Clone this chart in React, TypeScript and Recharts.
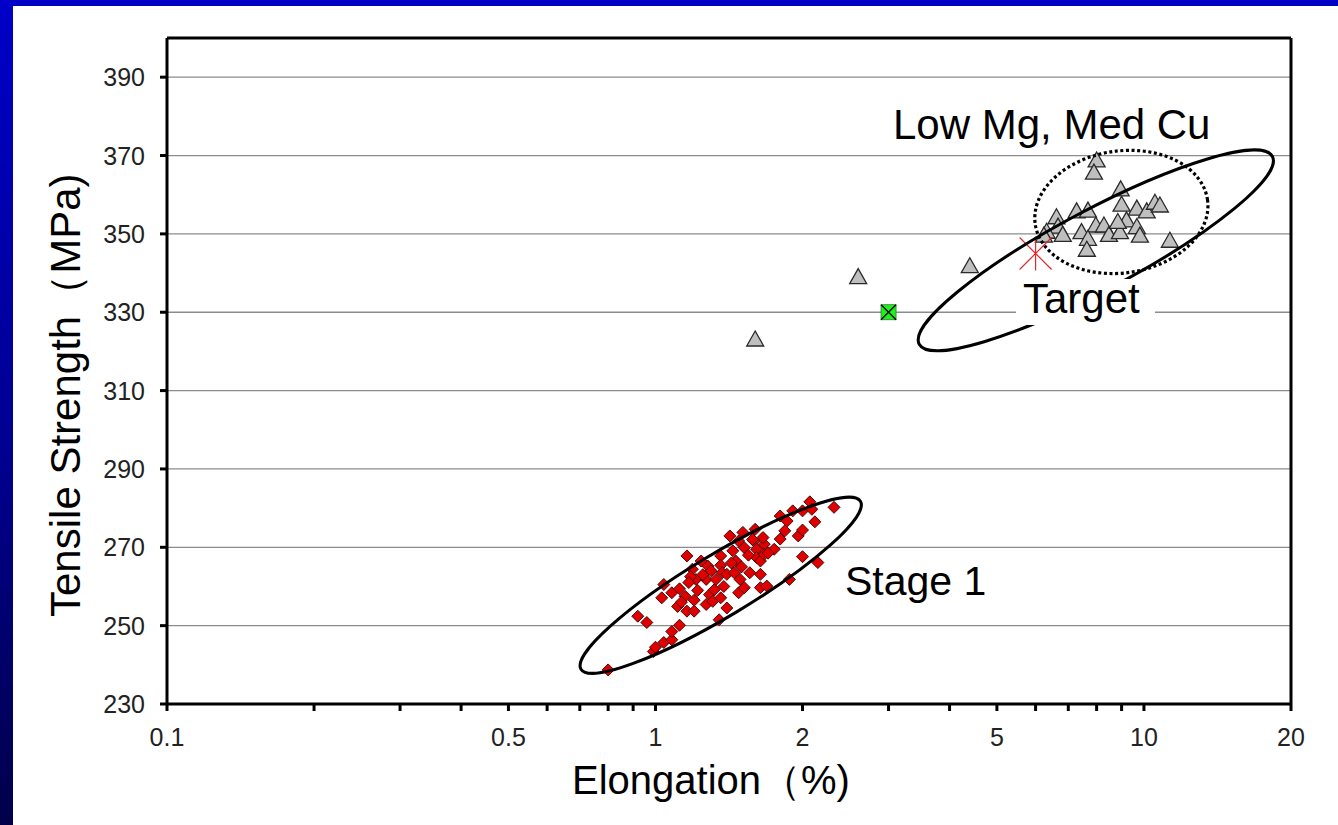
import React from "react"
import { CartesianGrid, ReferenceLine, Scatter, ScatterChart, XAxis, YAxis } from "recharts"

const FONT = "'Liberation Sans', Arial, sans-serif"

// x axis (log) tick positions, only some carry a label
const X_TICKS = [0.1, 0.2, 0.3, 0.4, 0.5, 0.6, 0.7, 0.8, 0.9, 1, 2, 3, 4, 5, 6, 7, 8, 9, 10, 20]
const X_LABELS = [0.1, 0.5, 1, 2, 5, 10, 20]
const Y_TICKS = [230, 250, 270, 290, 310, 330, 350, 370, 390]

// [elongation %, tensile strength MPa]
const STAGE1: [number, number][] = [
  [0.8, 238.7], [0.92, 252.4], [0.96, 250.8], [0.99, 243.4], [1.0, 244.5], [1.04, 245.7],
  [1.08, 246.4], [1.08, 248.5], [1.12, 250.1], [1.04, 260.5], [1.03, 257.1], [1.08, 258.4],
  [1.11, 254.9], [1.12, 259.4], [1.15, 257.5], [1.16, 253.7], [1.2, 253.7], [1.16, 267.8],
  [1.19, 264.4], [1.21, 261.8], [1.24, 266.5], [1.28, 265.2], [1.27, 261.8], [1.29, 257.9],
  [1.27, 255.4], [1.32, 259.2], [1.33, 261.8], [1.31, 256.2], [1.36, 257.1], [1.36, 267.8],
  [1.36, 265.4], [1.37, 263.5], [1.35, 251.5], [1.4, 254.5], [1.4, 263.1], [1.42, 272.9],
  [1.44, 269.1], [1.46, 266.5], [1.49, 261.8], [1.48, 258.4], [1.52, 259.7], [1.48, 271.6],
  [1.51, 273.8], [1.52, 269.9], [1.56, 263.5], [1.59, 271.6], [1.6, 274.6], [1.61, 269.5],
  [1.61, 267.4], [1.64, 266.5], [1.64, 263.1], [1.64, 259.7], [1.67, 270.8], [1.67, 268.2],
  [1.69, 260.1], [1.75, 269.5], [1.8, 278.0], [1.8, 272.1], [1.84, 274.2], [1.86, 276.7],
  [1.88, 261.8], [1.91, 279.3], [1.96, 272.9], [2.0, 274.4], [2.0, 267.6], [2.0, 279.3],
  [2.07, 281.6], [2.09, 279.7], [2.12, 276.5], [2.15, 266.1], [2.32, 280.2],
  [1.18, 262.5], [1.25, 263.0], [1.22, 259.0], [1.43, 266.0], [1.55, 268.0], [1.58, 272.0],
  [1.13, 256.0], [1.17, 261.0], [1.66, 272.5], [1.7, 268.5], [1.2, 256.5], [1.38, 260.0],
  [1.5, 265.0], [1.45, 263.5], [1.3, 264.0],
]

const LOW_MG_MED_CU: [number, number][] = [
  [1.6, 323.3], [2.6, 339.2], [4.4, 342.0], [8.0, 369.0], [7.9, 365.9], [8.96, 361.6],
  [9.0, 357.7], [7.28, 356.0], [7.68, 356.2], [9.67, 356.7], [10.13, 356.0], [10.53, 358.2],
  [10.78, 357.5], [6.62, 354.5], [6.67, 352.1], [6.32, 350.8], [6.24, 349.8], [6.82, 350.0],
  [7.45, 350.7], [7.97, 352.4], [8.28, 352.4], [8.48, 350.0], [8.93, 350.7], [9.21, 353.7],
  [8.84, 353.3], [9.67, 352.0], [9.81, 349.8], [7.68, 349.0], [7.64, 346.2], [11.3, 348.5],
]

const GREEN_POINT: [number, number][] = [[3.0, 330]]
const TARGET_POINT: [number, number][] = [[6.0, 345]]

const toRows = (pts: [number, number][]) => pts.map(([x, y]) => ({ x, y }))

// plot rectangle (chart margins + axis sizes below)
const W = 1338
const H = 825
const PLOT = { left: 167, top: 38, right: 1291, bottom: 704 }
const X_DOMAIN = [0.1, 20]
const Y_DOMAIN = [230, 400]

const px = (v: number) =>
  PLOT.left +
  ((Math.log10(v) - Math.log10(X_DOMAIN[0])) / (Math.log10(X_DOMAIN[1]) - Math.log10(X_DOMAIN[0]))) *
    (PLOT.right - PLOT.left)
const py = (v: number) =>
  PLOT.bottom - ((v - Y_DOMAIN[0]) / (Y_DOMAIN[1] - Y_DOMAIN[0])) * (PLOT.bottom - PLOT.top)

// hand drawn ellipses: centre in data units, radii in px
const ELLIPSES = [
  { cx: 1.36, cy: 260.3, rx: 163, ry: 31, angle: -31, dotted: false },
  { cx: 7.97, cy: 345.8, rx: 200, ry: 40, angle: -28, dotted: false },
  { cx: 8.99, cy: 355.6, rx: 87, ry: 61, angle: -8, dotted: true },
]

const XTick = (props: any) => {
  const { x, y, payload } = props
  if (!X_LABELS.includes(payload.value)) return <g />
  return (
    <text x={x} y={y} dy="0.71em" textAnchor="middle" fontSize={25} fill="#222" fontFamily={FONT}>
      {String(payload.value)}
    </text>
  )
}

const YTick = (props: any) => {
  const { x, y, payload } = props
  return (
    <text x={x} y={y} dy="0.36em" textAnchor="end" fontSize={25} fill="#222" fontFamily={FONT}>
      {String(payload.value)}
    </text>
  )
}

const Diamond = (props: any) => {
  const { cx, cy } = props
  const r = 6
  return (
    <path
      d={`M${cx},${cy - r}L${cx + r},${cy}L${cx},${cy + r}L${cx - r},${cy}Z`}
      fill="#e00000"
      stroke="#3a0000"
      strokeWidth={0.9}
    />
  )
}

const Triangle = (props: any) => {
  const { cx, cy } = props
  return (
    <path
      d={`M${cx},${cy - 7.5}L${cx + 8.5},${cy + 7.5}L${cx - 8.5},${cy + 7.5}Z`}
      fill="#bfbfbf"
      stroke="#2a2a2a"
      strokeWidth={1.3}
    />
  )
}

const GreenBox = (props: any) => {
  const { cx, cy } = props
  const r = 7.5
  return (
    <g>
      <rect x={cx - r} y={cy - r} width={2 * r} height={2 * r} fill="#1ef01e" stroke="#2a7a2a" strokeWidth={0.8} />
      <path d={`M${cx - r},${cy - r}L${cx + r},${cy + r}M${cx + r},${cy - r}L${cx - r},${cy + r}`} stroke="#000" strokeWidth={1.3} />
    </g>
  )
}

const Star = (props: any) => {
  const { cx, cy } = props
  const r = 16
  return (
    <path
      d={`M${cx - r},${cy - r}L${cx + r},${cy + r}M${cx + r},${cy - r}L${cx - r},${cy + r}M${cx},${cy - r - 1}L${cx},${cy + r + 1}`}
      stroke="#e02828"
      strokeWidth={1.2}
      fill="none"
    />
  )
}

export default function App() {
  return (
    <div
      style={{
        position: "absolute",
        left: 0,
        top: 0,
        width: W,
        height: H,
        background: "#fff",
        overflow: "hidden",
        fontFamily: FONT,
      }}
    >
      <div style={{ position: "absolute", left: 0, top: 0, width: W, height: 6, background: "#0000c4" }} />
      <div
        style={{
          position: "absolute",
          left: 0,
          top: 0,
          width: 13,
          height: H,
          background: "linear-gradient(to bottom, #0000c8, #000090 55%, #00004a)",
        }}
      />
      <div style={{ position: "absolute", left: 0, top: 0 }}>
        <ScatterChart width={W} height={H} margin={{ top: 38, right: 47, bottom: 81, left: 0 }}>
          <CartesianGrid vertical={false} stroke="#8c8c8c" strokeWidth={1.3} />
          <XAxis
            type="number"
            dataKey="x"
            scale="log"
            domain={X_DOMAIN}
            ticks={X_TICKS}
            interval={0}
            allowDataOverflow
            height={40}
            tickSize={7}
            tickMargin={17}
            tick={<XTick />}
            axisLine={{ stroke: "#000", strokeWidth: 3 }}
            tickLine={{ stroke: "#000", strokeWidth: 3 }}
          />
          <YAxis
            type="number"
            dataKey="y"
            domain={Y_DOMAIN}
            ticks={Y_TICKS}
            interval={0}
            allowDataOverflow
            width={167}
            tickSize={7}
            tickMargin={15}
            tick={<YTick />}
            axisLine={{ stroke: "#000", strokeWidth: 3 }}
            tickLine={{ stroke: "#000", strokeWidth: 3 }}
          />
          <ReferenceLine y={400} stroke="#000" strokeWidth={3} />
          <ReferenceLine x={20} stroke="#000" strokeWidth={3} />
          <Scatter data={toRows(STAGE1)} shape={Diamond} isAnimationActive={false} />
          <Scatter data={toRows(LOW_MG_MED_CU)} shape={Triangle} isAnimationActive={false} />
          <Scatter data={toRows(GREEN_POINT)} shape={GreenBox} isAnimationActive={false} />
          <Scatter data={toRows(TARGET_POINT)} shape={Star} isAnimationActive={false} />
        </ScatterChart>
      </div>
      <svg
        width={W}
        height={H}
        style={{ position: "absolute", left: 0, top: 0, pointerEvents: "none" }}
        fontFamily={FONT}
      >
        {ELLIPSES.map((e, i) => (
          <ellipse
            key={i}
            cx={px(e.cx)}
            cy={py(e.cy)}
            rx={e.rx}
            ry={e.ry}
            transform={`rotate(${e.angle} ${px(e.cx)} ${py(e.cy)})`}
            fill="none"
            stroke="#000"
            strokeWidth={e.dotted ? 3.2 : 3}
            strokeDasharray={e.dotted ? "3 2.6" : undefined}
          />
        ))}
        <rect x={1016} y={279} width={139} height={46} fill="#fff" />
        <text x={1023} y={313} fontSize={42} fill="#000">Target</text>
        <text x={893} y={139} fontSize={42} fill="#000">Low Mg, Med Cu</text>
        <text x={845} y={595} fontSize={41} fill="#000">Stage 1</text>
        <text x={572} y={794} fontSize={40} fill="#000">Elongation（%)</text>
        <text transform="translate(80 617) rotate(-90)" fontSize={42} fill="#000">
          Tensile Strength（MPa)
        </text>
      </svg>
    </div>
  )
}
